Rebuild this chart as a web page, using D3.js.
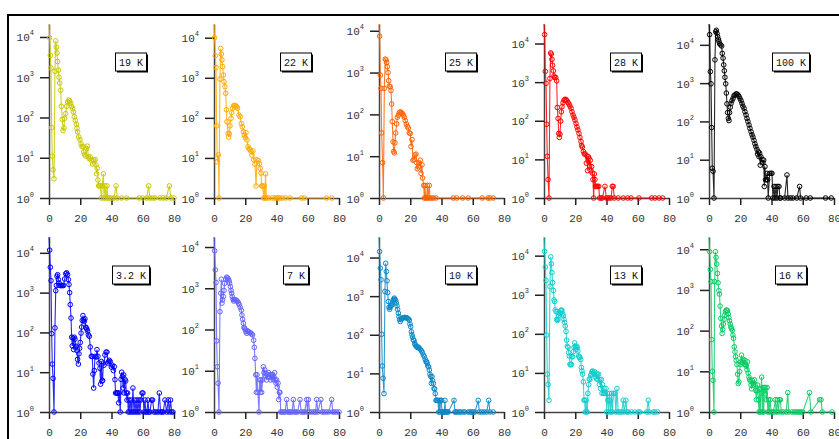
<!DOCTYPE html>
<html><head><meta charset="utf-8">
<script src="https://cdn.jsdelivr.net/npm/d3@7"></script>
<style>
html,body{margin:0;padding:0;background:#fff;}
svg{display:block;}
</style></head>
<body>
<svg id="chart" width="839" height="439"></svg>
<script>
const labels = ["19 K","22 K","25 K","28 K","100 K","3.2 K","7 K","10 K","13 K","16 K"];
const colors = ["#c8c800","#ffaa00","#ff6000","#ff0000","#000000","#0000ff","#6464ff","#0a88c8","#14cccc","#0acc64"];
const xTicks = [0,20,40,60,80];
const yTicks = [1,10,100,1000,10000];
const yExps = ["0","1","2","3","4"];

const d19K = [[0,21000],[0.4,9500],[0.85,3500],[1.3,1700],[1.7,56],[2.1,11],[2.6,5],[3.2,3],[3.8,1400],[4.3,8000],[4.7,5600],[5.1,4000],[5.5,2450],[6,1500],[6.4,1000],[6.8,720],[7.5,475],[7.9,190],[8.5,90],[9,47],[9.6,55],[10,95],[10.7,125],[11.3,190],[11.9,245],[12.6,270],[13.2,257],[13.9,224],[14.5,190],[15.1,166],[15.6,138],[16.2,105],[16.8,85],[17.5,68],[17.9,54],[18.3,44],[19,33],[19.8,28],[20.5,22],[21.1,19],[21.7,19],[22.2,14],[22.8,12],[23.5,11],[24.1,17],[24.5,19.5],[25.2,10.5],[25.8,9.5],[26.4,10.5],[27.1,8.7],[27.9,7],[28.8,8.7],[29.6,9],[30.1,6.6],[30.5,4],[30.9,5.5],[31.3,2.8],[31.8,2],[32.2,2],[32.8,2],[33.5,1],[34.1,2],[34.8,4],[35.2,1],[35.8,2],[36.5,1],[37.1,2],[37.5,1],[38.6,1],[40,1],[41.6,1],[42.9,2],[43.7,1],[46.5,1],[49.7,1],[57.8,1],[60,1],[62.5,1],[63.8,2],[64.6,1],[66.3,1],[67.8,1],[71,1],[73,1],[75,1],[77,2],[78,1],[80,1]];
const d22K = [[0,22000],[0.4,10000],[0.85,3550],[1.3,1800],[1.7,63],[2.1,8],[2.8,12],[3.2,1],[3.8,930],[4.3,5400],[4.7,3900],[5.1,2800],[5.5,1900],[6,1170],[6.4,800],[7,600],[7.5,410],[7.9,160],[8.3,80],[9,41],[9.4,33],[9.8,40],[10.2,63],[10.9,97],[11.3,135],[11.9,174],[12.6,200],[13.2,205],[13.9,200],[14.5,190],[15.1,174],[16,118],[16.8,107],[17.5,72],[18.1,60],[18.8,45],[19.4,37],[20,32],[20.5,43],[21.1,28],[21.7,19],[22.4,17],[23,16],[23.7,14.5],[24.3,11.7],[24.9,15],[25.4,9],[26.2,7],[26.9,2],[27.5,9],[28.4,8.5],[29,7.2],[29.6,5.5],[30.1,4.2],[30.5,2],[31.1,2],[31.8,1],[32.2,2],[32.6,1],[33,4],[33.5,1],[35,1],[37.3,1],[39,1],[40.3,1],[41.2,1],[42.2,1],[43.7,1],[45.8,1],[48.6,1],[56,1],[57.8,1],[72,1],[75.3,1]];
const d25K = [[0,14500],[0.4,7400],[0.85,870],[1.3,420],[1.7,36],[2.3,7],[2.8,1],[3.4,420],[4,2100],[4.5,2000],[4.9,1740],[5.3,1380],[5.8,1000],[6.2,640],[6.6,475],[7.2,457],[7.7,370],[8.1,177],[8.5,67],[9,22],[9.4,13],[9.8,12],[10.2,21],[10.7,36],[11.3,59],[11.7,85],[12.4,96],[13,110],[13.6,115],[14.3,110],[14.9,105],[15.6,96],[16.2,85],[16.8,71],[17.5,59],[18.1,51],[18.8,47],[19.4,36],[20,35],[20.5,17],[21.1,25],[21.7,8],[22.4,8.3],[23,10.7],[23.7,11.2],[24.1,7],[24.5,5],[25.2,5.6],[25.8,6.8],[26.4,8],[26.9,3.9],[27.5,6.2],[27.9,3],[28.6,2],[29,1],[29.4,2],[29.9,1],[30.5,1],[30.9,2],[31.3,1],[32.2,2],[32.6,1],[33.7,1],[34.8,1],[36.5,1],[47.5,1],[49.7,1],[53.5,1],[57.1,1],[66,1],[69.7,1],[71,1],[73.1,1]];
const d28K = [[0,32000],[0.4,17000],[0.85,1900],[1.3,930],[1.7,81],[2.1,12],[2.6,3],[3.2,1],[3.8,1240],[4.3,5700],[4.7,5300],[5.1,3900],[5.5,2750],[6,1960],[6.4,1440],[6.8,1320],[7.5,1320],[8.1,1080],[8.5,220],[9,115],[9.4,47],[9.8,37],[10.2,45],[10.7,98],[11.1,170],[11.5,230],[12.2,295],[12.8,340],[13.4,360],[14.1,355],[14.7,330],[15.4,295],[16,270],[16.6,240],[17.3,210],[17.9,170],[18.6,141],[19.2,123],[19.8,105],[20.5,85],[21.1,69],[21.7,58],[22.4,47],[23,37],[23.7,29],[24.1,23],[24.5,21],[25.2,16],[25.8,13.8],[26.4,13.8],[27.1,8],[27.5,12.3],[27.9,5.1],[28.4,11.7],[28.8,10.7],[29.2,6.8],[29.6,9.5],[30.1,5.1],[30.5,6.5],[30.9,4.4],[31.3,3],[31.8,1],[32.2,4.2],[32.6,3],[33,2],[33.7,2],[34.3,2],[35,2],[35.6,1],[36.5,1],[37.3,1],[39,2],[39.9,1],[40.7,1],[41.8,1],[42.9,1],[43.7,2],[44.3,2],[45,1],[47.5,1],[50.7,1],[53.5,1],[55.7,1],[60.8,1],[68.9,1],[71,1],[73.6,1],[75.9,1]];
const d100K = [[0,35000],[0.4,18500],[0.85,2000],[1.3,960],[1.7,69],[2.1,6],[2.6,5],[3.2,1],[3.8,4050],[4.3,22000],[4.7,24000],[5.1,20000],[5.5,16500],[6,14000],[6.4,12300],[6.8,10600],[7.5,10000],[8.1,9300],[8.5,6000],[9,4500],[9.4,3000],[9.8,2100],[10.2,1420],[10.7,960],[11.1,550],[11.5,288],[11.9,170],[12.4,120],[12.8,105],[13.2,170],[13.6,234],[14.1,295],[14.7,350],[15.4,400],[16,470],[16.6,490],[17.3,520],[17.9,520],[18.6,490],[19.2,450],[19.8,400],[20.5,350],[21.1,295],[21.7,250],[22.4,220],[23,180],[23.7,148],[24.3,120],[24.9,100],[25.6,81],[26.2,66],[26.9,54],[27.5,45],[28.1,39],[28.8,32],[29.4,26],[30,22],[30.7,18.6],[31.1,14],[31.6,16],[32,12],[32.4,14.8],[32.8,7.2],[33.2,12],[33.9,10.2],[34.5,8.3],[35,9.8],[35.4,2],[35.8,6.6],[36.2,3],[36.7,3],[37.1,4.4],[37.5,3],[37.9,1],[38.8,4.4],[39.7,4.4],[40.3,4.4],[40.9,1],[41.6,2],[42.2,1],[42.9,2],[43.5,1],[44.1,2],[44.8,2],[45.4,1],[45.8,1],[48.4,1],[49.9,4],[50.5,1],[52.2,1],[53.7,1],[56.2,1],[58,2],[58.6,1],[62.2,1],[64.8,1],[74.6,1],[78.2,1]];
const d3_2K = [[0,25000],[0.4,11700],[0.85,4350],[1.3,2000],[1.7,93],[2.1,16],[2.6,7],[3.2,1],[3.8,130],[4.3,1120],[4.7,1520],[5.1,2570],[5.5,2830],[6,2130],[6.4,1750],[6.8,1520],[7.5,1500],[8.1,1520],[8.7,1500],[9.4,1520],[10,2200],[10.7,3000],[11.3,3150],[11.9,2830],[12.4,2130],[12.8,1600],[13.2,1000],[13.6,500],[14.1,230],[14.5,76],[14.9,46],[15.4,72],[15.8,37],[16.2,76],[16.6,68],[17.1,43],[17.5,45],[17.9,35],[18.3,21],[18.8,16],[19.2,29],[19.6,40],[20,56],[20.5,96],[20.9,136],[21.3,200],[21.7,265],[22.2,210],[22.6,190],[23,220],[23.5,136],[23.9,130],[24.3,120],[24.7,107],[25.2,87],[25.8,80],[26.4,43],[27.1,25],[27.7,25],[28.1,9],[28.6,4],[29,11],[29.4,25],[30.1,24],[30.7,37],[31.3,25],[32,17],[32.6,12.5],[33,5],[33.5,18.6],[33.9,6],[34.3,6.2],[34.8,17],[35.2,15],[35.8,27],[36.5,32],[37.1,32],[37.7,17],[38.2,18.6],[38.6,20],[39.2,18.6],[39.9,13.5],[40.5,15],[41.2,11],[41.8,13.8],[42.2,6.5],[42.6,3],[43.3,3],[43.7,3],[44.1,3],[44.6,1.7],[45,3],[45.6,1],[46.1,6.6],[46.5,10],[47,7.8],[47.4,4],[47.8,8.5],[48.2,3],[48.6,6.6],[49.1,6],[49.5,3],[49.9,2],[50.3,3],[50.7,1],[51.2,2],[51.8,1],[52.4,2],[53.1,1],[53.7,4],[54.4,1],[55,2],[55.7,1],[56.3,2],[56.9,1],[57.6,2],[58.2,1],[58.8,2],[59.5,3],[60.1,3],[60.8,1],[61.4,2],[62,1],[62.7,1],[63.3,2],[64,1],[64.6,1],[65.7,2],[66.3,2],[67.2,1],[68.4,1],[69.7,1],[70.6,3],[71.4,1],[72.3,1],[73.1,1],[74.2,2],[75.3,1],[76.3,2],[77,1],[77.8,2],[78.5,1],[79.3,1]];
const d7K = [[0,17500],[0.4,8100],[0.85,2800],[1.3,1380],[1.7,53],[2.1,12.5],[2.6,5],[3.2,1],[3.8,270],[4.3,760],[4.7,1660],[5.1,435],[5.5,525],[6,630],[6.4,890],[6.8,1320],[7.5,1660],[8.1,1860],[8.7,1780],[9.2,1660],[9.6,1510],[10,1320],[10.5,1100],[10.9,890],[11.3,760],[11.7,630],[12.2,540],[12.6,490],[13.2,525],[13.9,525],[14.5,500],[15.1,480],[15.6,436],[16.2,400],[16.8,345],[17.5,295],[17.9,224],[18.3,178],[18.8,141],[19.2,112],[19.6,107],[20,98],[20.5,89],[20.9,81],[21.5,93],[22.2,89],[22.8,83],[23.5,83],[24.1,78],[24.7,74],[25.4,55],[25.8,37],[26.2,20],[26.7,8],[27.1,3],[27.5,8],[28.1,3],[28.8,1],[29.2,6],[29.6,3],[30.1,6],[30.5,3],[31.1,6],[31.6,12.5],[32,9],[32.4,10.7],[32.8,7.8],[33.3,8.5],[33.7,6],[34.1,8],[34.5,7],[35,9],[35.4,7],[35.8,8],[36.2,6],[36.7,8],[37.1,7],[37.5,8],[38,6],[38.4,7],[38.8,9],[39.2,6],[39.7,5],[40.1,6],[40.5,4],[41,5],[41.4,2],[41.8,3],[42.2,3],[42.7,1],[43.5,1],[44.5,1],[45.5,1],[46.5,2],[47.2,1],[48,1],[49,1],[50,1],[50.8,2],[51.5,1],[52.5,1],[53.5,1],[55,2],[55.8,1],[57,1],[58,1],[59.3,2],[59.8,1],[60.4,2],[61.2,1],[62.5,1],[64,1],[65,1],[65.7,2],[66.5,1],[68.4,2],[69.2,1],[70.5,1],[72,1],[73.5,1],[75.3,2],[76,1],[77,1],[78.5,1],[80,1]];
const d10K = [[0,34000],[0.4,14300],[0.85,5300],[1.3,2650],[1.7,103],[2.1,15.5],[2.6,7.5],[3.2,3],[3.8,1320],[4.3,7100],[4.7,4350],[5.1,2500],[5.5,1240],[6,725],[6.4,515],[6.8,455],[7.2,515],[7.7,560],[8.1,590],[8.5,660],[9,770],[9.4,830],[9.8,890],[10.2,830],[10.7,770],[11.1,660],[11.5,560],[11.9,455],[12.4,363],[12.8,295],[13.2,250],[13.6,220],[14.3,250],[14.9,270],[15.6,275],[16.2,280],[16.8,280],[17.5,275],[18.1,270],[18.8,257],[19.4,240],[19.8,190],[20.3,162],[20.7,120],[21.1,100],[21.5,87],[22,74],[22.4,71],[22.8,60],[23.2,55],[23.7,51],[24.1,49],[24.5,47],[25.2,48],[25.8,45],[26.4,42],[27.1,39],[27.7,35],[28.4,30],[29,27],[29.6,23],[30.1,20],[30.5,20],[30.9,18],[31.3,15.5],[31.8,14.8],[32.2,12.3],[32.6,9.5],[33.1,8.3],[33.5,5.5],[33.9,8.3],[34.3,6.5],[34.8,5.5],[35.2,4],[35.6,4],[36,3],[36.5,2],[36.9,2],[37.3,2],[37.7,2],[38.2,1],[38.6,2],[39,1],[39.4,2],[39.9,2],[40.3,1],[40.7,1],[41.2,1],[41.8,1],[42.2,2],[42.6,1],[43.3,1],[43.7,1],[44.3,1],[48,2],[48.6,1],[49.2,1],[50.1,1],[51.4,1],[52.4,1],[54,1],[55,1],[57.2,1],[58.2,1],[59.3,1],[60.4,1],[61.4,1],[63.5,2],[64.2,1],[65.7,1],[67.2,1],[68.9,1],[70.2,2],[71,1],[73.1,1]];
const d13K = [[0,30000],[0.4,12900],[0.85,5100],[1.3,2330],[1.7,93],[2.1,9.3],[2.6,5.1],[3.2,2],[3.8,1620],[4.3,9300],[4.7,6200],[5.1,3700],[5.5,2050],[6,1290],[6.4,740],[6.8,670],[7.2,410],[7.7,370],[8.1,235],[8.5,220],[9,235],[9.4,290],[9.8,345],[10.2,325],[10.7,395],[11.1,405],[11.5,395],[11.9,325],[12.4,290],[12.8,235],[13.2,195],[13.6,158],[14.1,115],[14.5,69],[14.9,48],[15.4,45],[15.8,33],[16.2,27],[16.6,16.6],[17.1,16],[17.5,16.6],[17.9,26],[18.3,26],[18.8,35],[19.2,45],[19.6,59],[20,48],[20.5,40],[20.9,48],[21.3,45],[21.7,36],[22.2,27],[22.6,25],[23,25],[23.5,22],[23.9,13.8],[24.3,11.2],[24.7,9.3],[25.2,5.9],[25.6,2],[26,2],[26.4,1],[26.9,2],[27.3,1],[27.7,1],[28.1,3],[28.6,5],[29,7],[29.4,6.8],[29.9,8.7],[30.3,9.3],[30.7,10.7],[31.1,11.2],[31.6,9.8],[32,9.3],[32.4,10.7],[32.8,8],[33.3,9.3],[33.7,7],[34.1,9.3],[34.5,6.8],[35,9.3],[35.4,5.1],[35.8,6.8],[36.2,4],[36.7,6.8],[37.1,3],[37.5,5],[38,3],[38.4,4],[38.8,3],[39.2,3],[39.7,4],[40.1,1],[40.5,3],[40.9,2],[41.4,1],[41.8,3],[42.2,2],[42.6,1],[43.3,3],[43.7,1],[44.5,3],[45.4,3],[46,1],[46.7,4],[47.5,1],[48.6,1],[49.7,1],[50.7,2],[51.4,1],[52.4,2],[53.1,1],[54,1],[56,1],[58.2,1],[60.4,1],[61.4,1],[65.7,1],[66.7,2],[67.4,1],[69.9,1],[71,1],[72.7,1]];
const d16K = [[0,20000],[0.4,8700],[0.85,3200],[1.3,1600],[1.7,60],[2.1,10],[2.6,6],[3.2,1],[3.6,1600],[4.1,8700],[4.5,6300],[4.9,4350],[5.4,2560],[5.8,1500],[6.3,960],[6.7,790],[7.1,400],[7.5,200],[8,130],[8.4,85],[8.8,107],[9.2,145],[9.7,190],[10.1,240],[10.5,290],[11,318],[11.4,318],[11.8,310],[12.3,257],[12.7,210],[13.1,174],[13.6,145],[14,123],[14.4,112],[14.9,102],[15.3,78],[15.7,65],[16.2,40],[16.6,30],[17,23],[17.4,18.6],[17.9,14.8],[18.3,8.5],[18.7,5],[19.1,5.5],[19.6,9.8],[20,14.8],[20.4,17],[20.8,25],[21.3,18.6],[21.7,16.2],[22.1,19.5],[22.6,14.8],[23,18.6],[23.4,14.8],[23.8,13.5],[24.3,11],[24.7,17],[25.1,9.1],[25.6,7.2],[26,6.3],[26.4,5.8],[26.9,4.6],[27.3,3.7],[27.7,6],[28.2,5.1],[28.6,4.6],[29,6.2],[29.4,4.8],[29.9,3.4],[30.3,2],[30.7,3.3],[31.1,4.6],[31.6,2],[32,1],[32.4,3.7],[32.8,1],[33.3,3.7],[33.7,7.2],[34.1,1],[34.6,4],[35,1],[35.4,4],[35.9,2.8],[36.3,4],[36.7,2],[37.2,4],[37.6,1],[38,2],[38.5,1],[39.1,2],[39.8,1],[40.5,1],[41.3,1],[42.4,2],[43,1],[43.8,2],[44.4,1],[45.1,2],[45.7,2],[46.3,1],[47.6,1],[49.4,1],[50.4,3],[51,1],[53,1],[54.5,1],[55.8,1],[56.6,1],[57.9,1],[58.8,1],[60,1],[64.3,3],[65.2,1],[70.8,2],[71.7,2],[72.5,1],[78.7,1]];

const series = [d19K,d22K,d25K,d28K,d100K,d3_2K,d7K,d10K,d13K,d16K];

const svg = d3.select("#chart");
const FONT = "'Liberation Mono', 'DejaVu Sans Mono', monospace";

// outer frame
svg.append("rect").attr("x",8).attr("y",15).attr("width",1000).attr("height",1000)
  .attr("fill","none").attr("stroke","#000").attr("stroke-width",2);

const colStep = 165, x0 = 49, plotW = 125;
const rowTop = [24, 237], rowBottom = [198, 412];

series.forEach((data, i) => {
  const c = i % 5, r = Math.floor(i / 5);
  const ax = x0 + colStep * c;
  const color = colors[i];
  const x = d3.scaleLinear().domain([0, 80]).range([ax, ax + plotW]);
  const y = d3.scaleLog().domain([1, d3.max(data, d => d[1])]).range([rowBottom[r], rowTop[r]]);
  const g = svg.append("g");

  // x axis
  const xa = g.append("g").attr("transform", `translate(0,${rowBottom[r]})`)
    .call(d3.axisBottom(x).tickValues(xTicks).tickSize(7).tickSizeOuter(0).tickFormat(d3.format("d")));
  xa.select(".domain").attr("stroke","#444").attr("stroke-width",1.5);
  xa.selectAll(".tick line").attr("stroke","#222").attr("stroke-width",1.5);
  xa.selectAll(".tick text").attr("font-family",FONT).attr("font-size",11).attr("fill","#333").attr("dy",null).attr("y",24);

  // y axis
  const ya = g.append("g").attr("transform", `translate(${ax},0)`)
    .call(d3.axisLeft(y).tickValues(yTicks).tickSize(9).tickSizeOuter(0).tickFormat(() => ""));
  ya.select(".domain").attr("stroke","#444").attr("stroke-width",1.5);
  ya.selectAll(".tick line").attr("stroke","#222").attr("stroke-width",1.5);
  ya.selectAll(".tick text").remove();
  ya.selectAll(".tick").each(function(d, k) {
    const t = d3.select(this).append("text").attr("x", -15).attr("y", 4)
      .attr("text-anchor","end").attr("font-family",FONT).attr("font-size",11).attr("fill","#333");
    t.append("tspan").text("10");
    t.append("tspan").attr("dy",-6).attr("font-size",7).text(yExps[k]);
  });

  // data line
  const line = d3.line().x(d => x(d[0])).y(d => y(d[1]));
  g.append("path").datum(data).attr("d", line).attr("fill","none")
    .attr("stroke", color).attr("stroke-width", 1.1).attr("stroke-opacity", 0.85);
  g.selectAll("circle").data(data.slice(1)).join("circle")
    .attr("cx", d => x(d[0])).attr("cy", d => y(d[1])).attr("r", 2.3)
    .attr("fill", "none").attr("stroke", color).attr("stroke-width", 1);

  // label box
  const cx = ax + 82, cy = rowTop[r] + 38;
  const tw = labels[i].length * 6 + 7;
  g.append("rect").attr("x", cx - tw/2 + 1.5).attr("y", cy - 9 + 1.5).attr("width", tw).attr("height", 18).attr("fill","#000");
  g.append("rect").attr("x", cx - tw/2).attr("y", cy - 9).attr("width", tw).attr("height", 18)
    .attr("fill","#fff").attr("stroke","#000").attr("stroke-width",1);
  g.append("text").attr("x", cx).attr("y", cy + 3.5).attr("text-anchor","middle")
    .attr("font-family", FONT).attr("font-size", 10).attr("fill","#111").text(labels[i]);
});
</script>
</body></html>
